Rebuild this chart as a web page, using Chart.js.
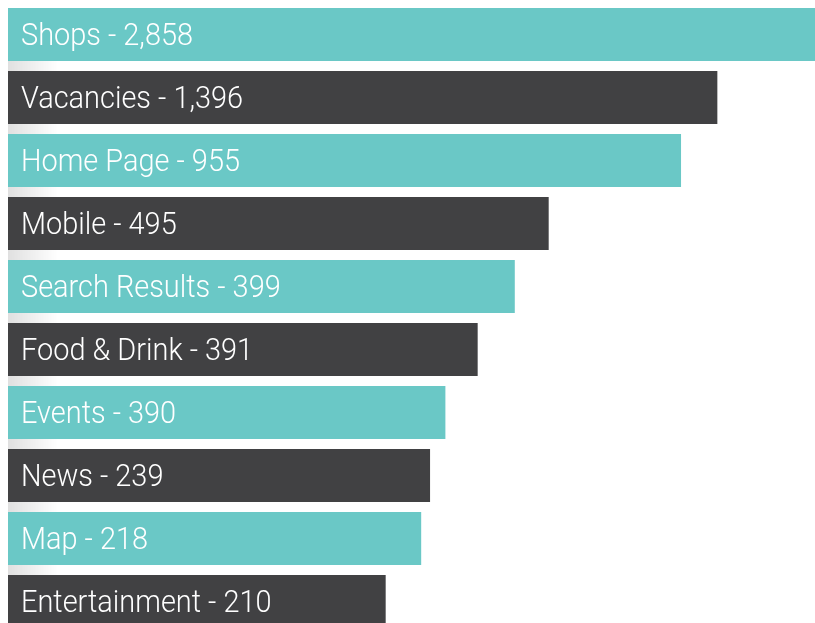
<!DOCTYPE html>
<html>
<head>
<meta charset="utf-8">
<script src="https://cdn.jsdelivr.net/npm/chart.js@4"></script>
<style>
  html, body { margin: 0; padding: 0; background: #fff; overflow: hidden; }
  #wrap { width: 815px; height: 636px; }
</style>
</head>
<body>
<div id="wrap"><canvas id="barChart"></canvas></div>
<script>
// page names and their view counts (shown in the labels)
var pages = ["Shops", "Vacancies", "Home Page", "Mobile", "Search Results",
  "Food & Drink", "Events", "News", "Map", "Entertainment"];
var views = [2858, 1396, 955, 495, 399, 391, 390, 239, 218, 210];

// bar lengths as drawn, in percent of the longest bar
var barLengths = [100, 87.9, 83.4, 67.0, 62.8, 58.2, 54.2, 52.3, 51.2, 46.8];

var barColors = ["#6ac8c6", "#414143"];

// grey fade in the gaps on the left side
var gapShade = {
  id: "gapShade",
  beforeDatasetsDraw: function(chart) {
    var ctx = chart.ctx;
    var meta = chart.getDatasetMeta(0);
    var left = chart.chartArea.left;
    ctx.save();
    for (var i = 0; i < meta.data.length - 1; i++) {
      var top = meta.data[i].y + meta.data[i].height / 2;
      var bottom = meta.data[i + 1].y - meta.data[i + 1].height / 2;
      var grad = ctx.createLinearGradient(left, 0, left + 50, 0);
      grad.addColorStop(0, "rgba(0,0,0,0.12)");
      grad.addColorStop(1, "rgba(0,0,0,0)");
      ctx.fillStyle = grad;
      ctx.fillRect(left, top, 50, bottom - top);
    }
    ctx.restore();
  }
};

// white labels inside the bars, squeezed to look condensed
var barLabels = {
  id: "barLabels",
  afterDatasetsDraw: function(chart) {
    var ctx = chart.ctx;
    var meta = chart.getDatasetMeta(0);
    ctx.save();
    ctx.fillStyle = "#ffffff";
    ctx.font = "300 31px Roboto, 'Open Sans', sans-serif";
    ctx.textBaseline = "middle";
    ctx.textAlign = "left";
    var squeeze = 172 / ctx.measureText("Shops - 2,858").width;
    for (var i = 0; i < meta.data.length; i++) {
      var bar = meta.data[i];
      var text = pages[i] + " - " + views[i].toLocaleString("en-US");
      ctx.save();
      ctx.translate(chart.chartArea.left + 13, bar.y + 3);
      ctx.scale(squeeze, 1);
      ctx.fillText(text, 0, 0);
      ctx.restore();
    }
    ctx.restore();
  }
};

function drawChart() {

  var ctx = document.getElementById("barChart").getContext("2d");
  var chart = new Chart(ctx, {

    type: "bar",

    data: {
      labels: pages,
      datasets: [{
        data: barLengths,
        backgroundColor: pages.map(function(p, i) { return barColors[i % 2]; }),
        borderWidth: 0,
        barPercentage: 53 / 63,
        categoryPercentage: 1
      }]
    },

    options: {
      indexAxis: "y",
      responsive: true,
      maintainAspectRatio: false,
      animation: false,
      layout: { padding: { left: 8, right: 0, top: 3, bottom: 3 } },
      plugins: {
        legend: { display: false },
        tooltip: { enabled: false }
      },
      scales: {
        x: { display: false, min: 0, max: 100 },
        y: { display: false }
      }
    },

    plugins: [gapShade, barLabels]
  });
}

drawChart();
</script>
</body>
</html>
